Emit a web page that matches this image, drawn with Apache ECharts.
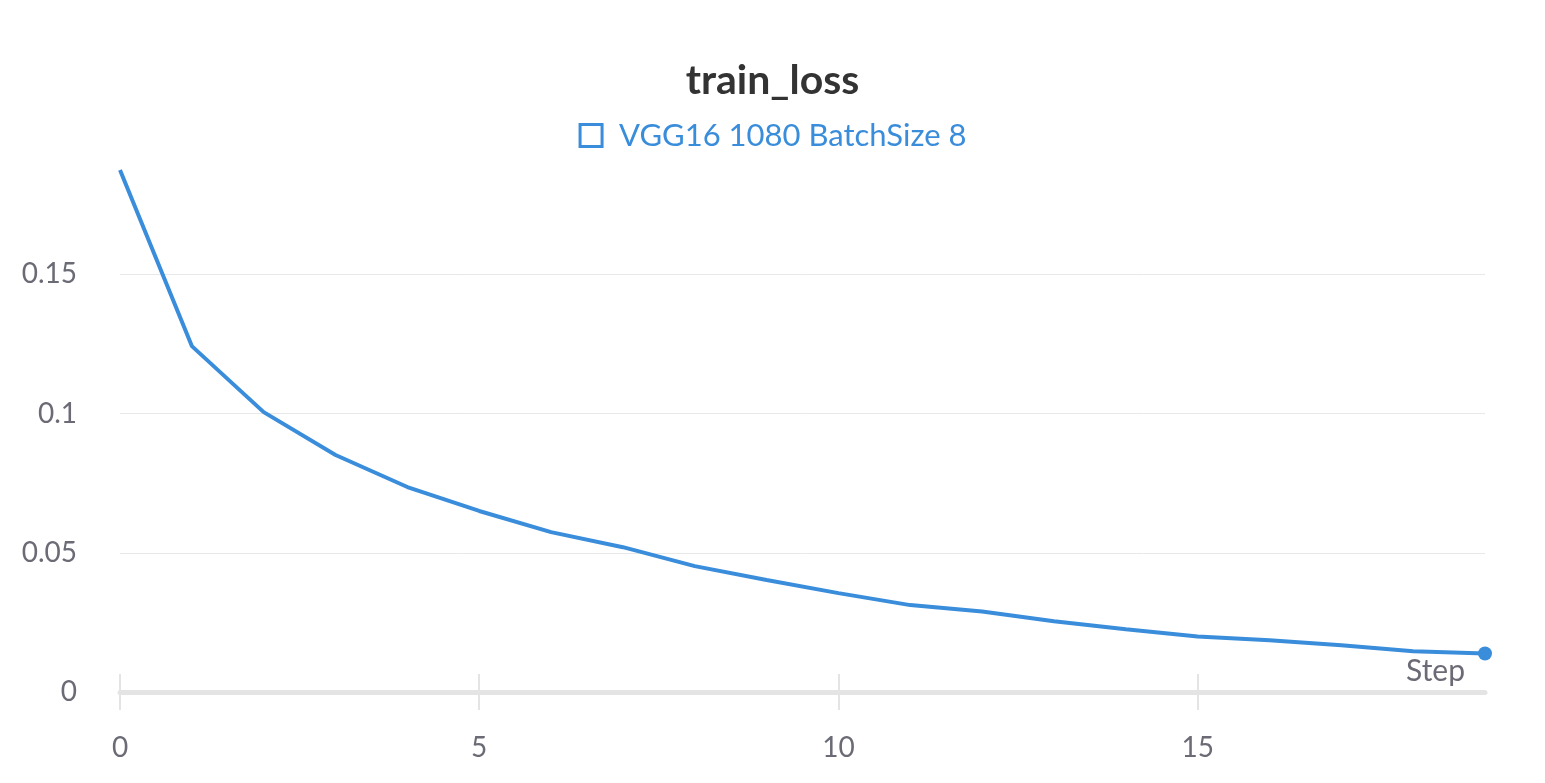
<!DOCTYPE html>
<html>
<head>
<meta charset="utf-8">
<script src="https://cdn.jsdelivr.net/npm/echarts@6/dist/echarts.min.js"></script>
<style>
    html, body { margin: 0; padding: 0; background: #fff; }
    #chart { width: 1545px; height: 783px; }
</style>
</head>
<body>
<div id="chart"></div>
<script>
// 数据
var steps = [0, 1, 2, 3, 4, 5, 6, 7, 8, 9, 10, 11, 12, 13, 14, 15, 16, 17, 18, 19];
var trainLoss = [0.1874, 0.1242, 0.1005, 0.0851, 0.0736, 0.0650, 0.0574, 0.0520, 0.0452, 0.0402,
                 0.0355, 0.0312, 0.0289, 0.0254, 0.0225, 0.0199, 0.0186, 0.0168, 0.0146, 0.0138];
var xTicks = [0, 5, 10, 15];
var yTicks = [0, 0.05, 0.1, 0.15];
var seriesName = 'VGG16 1080 BatchSize 8';

var lineColor = '#3a8ddb';
var labelColor = '#6b6b76';
var fontFamily = 'Lato, "Noto Sans", sans-serif';

var chart = echarts.init(document.getElementById('chart'));
var lastIdx = trainLoss.length - 1;

var option = {
    animation: false,
    textStyle: { fontFamily: fontFamily },
    title: {
        text: 'train_loss',
        left: 'center',
        top: 55,
        textStyle: { fontSize: 41, fontWeight: 'bold', color: '#333333', fontFamily: fontFamily }
    },
    legend: {
        top: 115,
        left: 'center',
        itemWidth: 22,
        itemHeight: 22,
        itemGap: 20,
        icon: 'rect',
        itemStyle: { color: 'transparent', borderColor: lineColor, borderWidth: 3 },
        textStyle: { fontSize: 31, color: lineColor, padding: [0, 0, 0, 12], fontFamily: fontFamily },
        data: [seriesName]
    },
    grid: { left: 120, right: 60, top: 135, bottom: 91 },
    xAxis: [
        {
            type: 'value',
            min: 0,
            max: 19,
            position: 'bottom',
            name: 'Step',
            nameLocation: 'end',
            nameGap: -20,
            nameTextStyle: {
                fontSize: 30, color: labelColor, align: 'right',
                verticalAlign: 'bottom', padding: [0, 0, 6, 0]
            },
            axisLine: { show: true, lineStyle: { color: '#e4e4e4', width: 5 } },
            axisTick: { show: true, inside: false, length: 18, customValues: xTicks,
                lineStyle: { color: '#e4e4e4', width: 2 } },
            axisLabel: { customValues: xTicks, fontSize: 28, color: labelColor, margin: 42 },
            splitLine: { show: false }
        },
        {
            type: 'value',
            min: 0,
            max: 19,
            position: 'bottom',
            axisLine: { show: false },
            axisTick: { show: true, inside: true, length: 18, customValues: xTicks,
                lineStyle: { color: '#e4e4e4', width: 2 } },
            axisLabel: { show: false },
            splitLine: { show: false }
        }
    ],
    yAxis: {
        type: 'value',
        min: 0,
        max: 0.2,
        axisLine: { show: false },
        axisTick: { show: false, customValues: yTicks },
        axisLabel: { customValues: yTicks, fontSize: 28, color: labelColor, margin: 43 },
        splitLine: { show: true, lineStyle: { color: '#e8e8e8', width: 1 } }
    },
    series: [{
        name: seriesName,
        type: 'line',
        xAxisIndex: 0,
        data: steps.map(function (s, i) { return [s, trainLoss[i]]; }),
        showAllSymbol: true,
        symbol: 'circle',
        symbolSize: function (v, params) { return params.dataIndex === lastIdx ? 14 : 0; },
        itemStyle: { color: lineColor },
        lineStyle: { color: lineColor, width: 4 }
    }]
};
chart.setOption(option);
</script>
</body>
</html>
